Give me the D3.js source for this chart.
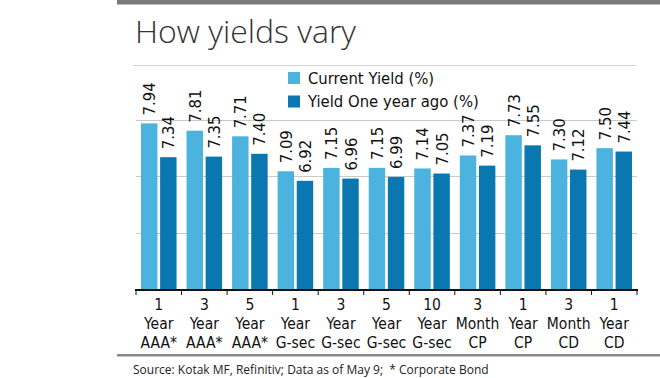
<!DOCTYPE html>
<html>
<head>
<meta charset="utf-8">
<script src="https://cdn.jsdelivr.net/npm/d3@7"></script>
<style>
  body { margin: 0; background: #fff; }
</style>
</head>
<body>
<div id="chart"></div>
<script>
const categories = [
    ["1", "Year", "AAA*"], ["3", "Year", "AAA*"], ["5", "Year", "AAA*"],
    ["1", "Year", "G-sec"], ["3", "Year", "G-sec"], ["5", "Year", "G-sec"],
    ["10", "Year", "G-sec"], ["3", "Month", "CP"], ["1", "Year", "CP"],
    ["3", "Month", "CD"], ["1", "Year", "CD"]
];
const current_yield = [7.94, 7.81, 7.71, 7.09, 7.15, 7.15, 7.14, 7.37, 7.73, 7.30, 7.50];
const year_ago_yield = [7.34, 7.35, 7.40, 6.92, 6.96, 6.99, 7.05, 7.19, 7.55, 7.12, 7.44];
const series_names = ["Current Yield (%)", "Yield One year ago (%)"];
const y_ticks = [5, 6, 7, 8];

const narrow = "'Liberation Sans Narrow', 'DejaVu Sans Condensed', 'Roboto Condensed', Roboto, sans-serif";
const colors = ["#4cb2de", "#0a77b1"];

const svg = d3.select("#chart")
    .append("svg")
    .attr("width", 660)
    .attr("height", 378);

// frame lines and title
svg.append("rect").attr("x", 117).attr("y", 0).attr("width", 543).attr("height", 4.5).attr("fill", "#7a7a7a");
svg.append("text")
    .attr("x", 135).attr("y", 43)
    .attr("font-family", "'Open Sans', Lato, sans-serif")
    .attr("font-weight", 300)
    .attr("font-size", 32)
    .attr("fill", "#333")
    .text("How yields vary");
svg.append("line").attr("x1", 133).attr("x2", 636).attr("y1", 65.5).attr("y2", 65.5)
    .attr("stroke", "#d0d0d0").attr("stroke-width", 1);

const x = d3.scaleBand()
    .domain(d3.range(categories.length))
    .range([136, 637]);

const x1 = d3.scaleBand()
    .domain([0, 1])
    .range([5, x.bandwidth() - 5])
    .paddingInner(0.14);

const y = d3.scaleLinear()
    .domain([5, 8])
    .range([289, 120]);

// gridlines
svg.append("g")
    .selectAll("line")
    .data(y_ticks.slice(1))
    .enter().append("line")
    .attr("x1", 136).attr("x2", 637)
    .attr("y1", d => Math.round(y(d)) + 0.5)
    .attr("y2", d => Math.round(y(d)) + 0.5)
    .attr("stroke", "#c9c9c9");

const series = [current_yield, year_ago_yield];

series.forEach((values, s) => {
    svg.append("g")
        .selectAll("rect")
        .data(values)
        .enter().append("rect")
        .attr("x", (d, i) => x(i) + x1(s))
        .attr("y", d => y(d))
        .attr("width", x1.bandwidth())
        .attr("height", d => y(5) - y(d))
        .attr("fill", colors[s]);

    svg.append("g")
        .selectAll("text")
        .data(values)
        .enter().append("text")
        .attr("transform", (d, i) => `translate(${x(i) + x1(s) + x1.bandwidth() / 2 + 6},${y(d) - 8}) rotate(-90)`)
        .attr("font-family", narrow)
        .attr("font-size", 16.5)
        .attr("fill", "#111")
        .text(d => d.toFixed(2));
});

// x axis with ticks at group edges
svg.append("line")
    .attr("x1", 135).attr("x2", 638)
    .attr("y1", y(5) + 1).attr("y2", y(5) + 1)
    .attr("stroke", "#111").attr("stroke-width", 2);

svg.append("g")
    .selectAll("line")
    .data(d3.range(categories.length + 1))
    .enter().append("line")
    .attr("x1", i => i < categories.length ? x(i) : x.range()[1])
    .attr("x2", i => i < categories.length ? x(i) : x.range()[1])
    .attr("y1", y(5)).attr("y2", y(5) + 6)
    .attr("stroke", "#111");

const labels = svg.append("g")
    .selectAll("text")
    .data(categories)
    .enter().append("text")
    .attr("x", (d, i) => x(i) + x.bandwidth() / 2)
    .attr("y", 310)
    .attr("text-anchor", "middle")
    .attr("font-family", narrow)
    .attr("font-size", 15.5)
    .attr("fill", "#111");

labels.selectAll("tspan")
    .data(d => d)
    .enter().append("tspan")
    .attr("x", function () { return this.parentNode.getAttribute("x"); })
    .attr("dy", (d, j) => j === 0 ? 0 : 19)
    .text(d => d);

// legend
const legend = svg.append("g")
    .selectAll("g")
    .data(series_names)
    .enter().append("g")
    .attr("transform", (d, i) => `translate(288,${72 + i * 23.5})`);

legend.append("rect")
    .attr("width", 12).attr("height", 12)
    .attr("fill", (d, i) => colors[i]);

legend.append("text")
    .attr("x", 20).attr("y", 11.5)
    .attr("font-family", narrow)
    .attr("font-size", 16.5)
    .attr("fill", "#111")
    .text(d => d);

// footer
svg.append("rect").attr("x", 117).attr("y", 354).attr("width", 543).attr("height", 2.5).attr("fill", "#8a8a8a");
svg.append("text")
    .attr("x", 133).attr("y", 374)
    .attr("font-family", "'Open Sans', sans-serif")
    .attr("font-size", 12)
    .attr("fill", "#222")
    .attr("xml:space", "preserve")
    .text("Source: Kotak MF, Refinitiv; Data as of May 9;  * Corporate Bond");
</script>
</body>
</html>
